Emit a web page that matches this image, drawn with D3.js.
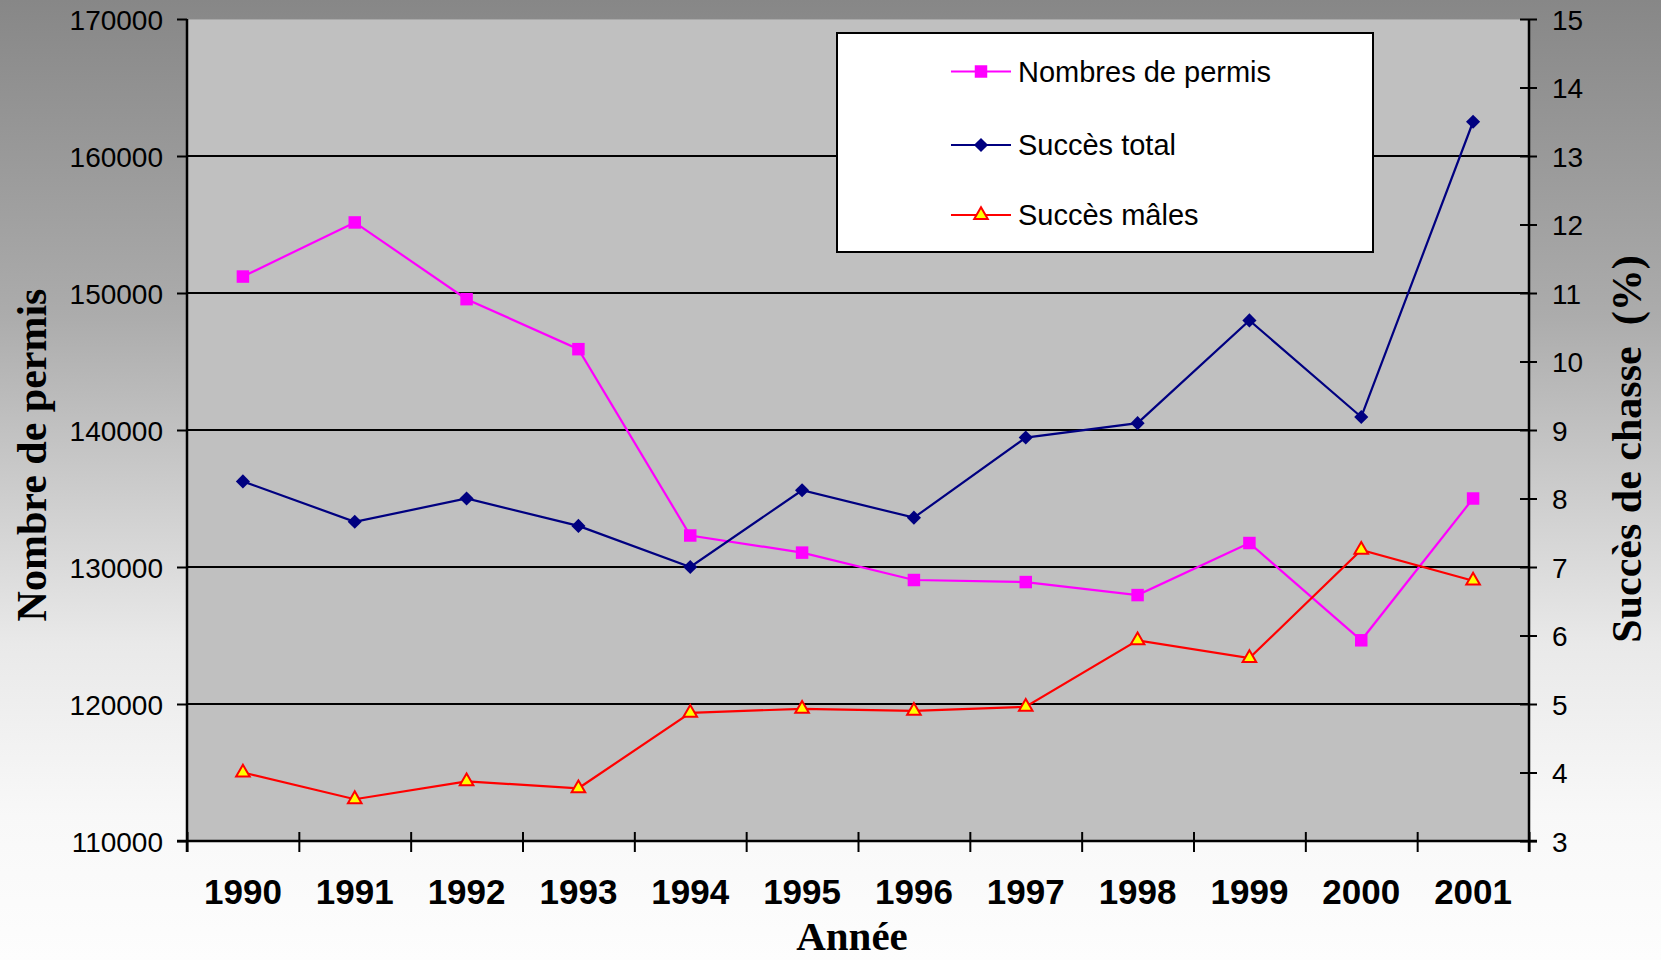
<!DOCTYPE html>
<html lang="fr">
<head>
<meta charset="UTF-8">
<title>Permis et succès de chasse</title>
<script src="https://d3js.org/d3.v7.min.js"></script>
<style>
  body { margin: 0; background: #fff; }
  svg { display: block; }
  .tick text { fill: #000; }
</style>
</head>
<body>
<svg id="chart" width="1661" height="960"></svg>
<script>
// data
var years = ["1990","1991","1992","1993","1994","1995","1996","1997","1998","1999","2000","2001"];
var permis = [151200, 155150, 149550, 145900, 132300, 131050, 129050, 128900, 127950, 131750, 124650, 135000];
var succesTotal = [8.25, 7.66, 8.00, 7.60, 7.00, 8.12, 7.72, 8.89, 9.10, 10.60, 9.19, 13.50];
var succesMales = [4.00, 3.61, 3.87, 3.77, 4.87, 4.93, 4.90, 4.96, 5.93, 5.67, 7.25, 6.80];
var leftTicks = [110000, 120000, 130000, 140000, 150000, 160000, 170000];
var rightTicks = [3, 4, 5, 6, 7, 8, 9, 10, 11, 12, 13, 14, 15];
var gridValues = [120000, 130000, 140000, 150000, 160000];
var legendNames = ["Nombres de permis", "Succès total", "Succès mâles"];

var svg = d3.select("#chart");
var sans = "'Liberation Sans', Arial, sans-serif";
var serif = "'Liberation Serif', 'Times New Roman', serif";

// background gradient
var defs = svg.append("defs");
var grad = defs.append("linearGradient").attr("id", "bg")
  .attr("x1", 0).attr("y1", 0).attr("x2", 0).attr("y2", 1);
grad.append("stop").attr("offset", "0%").attr("stop-color", "#878787");
grad.append("stop").attr("offset", "33%").attr("stop-color", "#acacac");
grad.append("stop").attr("offset", "67%").attr("stop-color", "#e9e9e9");
grad.append("stop").attr("offset", "85%").attr("stop-color", "#f8f8f8");
grad.append("stop").attr("offset", "100%").attr("stop-color", "#fdfdfd");
svg.append("rect").attr("width", 1661).attr("height", 960).attr("fill", "url(#bg)");

// plot box (not "top": that name is taken by window.top)
var pLeft = 187, pRight = 1529, pTop = 19, pBottom = 841;

var x = d3.scaleBand().domain(years).range([pLeft, pRight]).padding(0);
var xEdge = d3.scaleLinear().domain([0, years.length]).range([pLeft, pRight]);
var yL = d3.scaleLinear().domain([110000, 170000]).range([pBottom, pTop]);
var yR = d3.scaleLinear().domain([3, 15]).range([pBottom, pTop]);
var cx = function(d, i) { return x(years[i]) + x.bandwidth() / 2; };

// plot area
svg.append("rect")
  .attr("x", pLeft).attr("y", pTop)
  .attr("width", pRight - pLeft).attr("height", pBottom - pTop)
  .attr("fill", "#c0c0c0");
svg.append("line")
  .attr("x1", pLeft).attr("x2", pRight).attr("y1", pTop + 0.5).attr("y2", pTop + 0.5)
  .attr("stroke", "#a8a8a8").attr("stroke-width", 1);

// gridlines
svg.append("g").selectAll("line")
  .data(gridValues).enter().append("line")
  .attr("x1", pLeft).attr("x2", pRight)
  .attr("y1", function(d) { return yL(d); })
  .attr("y2", function(d) { return yL(d); })
  .attr("stroke", "#000").attr("stroke-width", 2);

// left axis
var gL = svg.append("g").attr("transform", "translate(" + pLeft + ",0)")
  .call(d3.axisLeft(yL).tickValues(leftTicks).tickSize(10).tickPadding(14).tickFormat(d3.format("d")));
gL.select(".domain").remove();
gL.selectAll("line").attr("stroke", "#000").attr("stroke-width", 2);
gL.selectAll("text").attr("font-family", sans).attr("font-size", 28).attr("dy", "0.36em");

// right axis
var gR = svg.append("g").attr("transform", "translate(" + pRight + ",0)")
  .call(d3.axisRight(yR).tickValues(rightTicks).tickSize(8).tickPadding(15));
gR.select(".domain").remove();
gR.selectAll("line").attr("x1", -9).attr("stroke", "#000").attr("stroke-width", 2);
gR.selectAll("text").attr("font-family", sans).attr("font-size", 28).attr("dy", "0.36em");

// bottom axis: boundary ticks
var gB = svg.append("g").attr("transform", "translate(0," + pBottom + ")")
  .call(d3.axisBottom(xEdge).ticks(years.length).tickSize(11).tickFormat(""));
gB.select(".domain").remove();
gB.selectAll("line").attr("y1", -9).attr("stroke", "#000").attr("stroke-width", 2);

// bottom axis: year labels
var gY = svg.append("g").attr("transform", "translate(0," + pBottom + ")")
  .call(d3.axisBottom(x).tickSize(0));
gY.select(".domain").remove();
gY.selectAll("text")
  .attr("y", 63).attr("dy", 0)
  .attr("font-family", sans).attr("font-size", 35).attr("font-weight", "bold");

// axis lines
svg.append("line").attr("x1", pLeft).attr("x2", pLeft).attr("y1", pTop).attr("y2", pBottom + 11)
  .attr("stroke", "#000").attr("stroke-width", 2.5);
svg.append("line").attr("x1", pRight).attr("x2", pRight).attr("y1", pTop).attr("y2", pBottom + 11)
  .attr("stroke", "#000").attr("stroke-width", 2.5);
svg.append("line").attr("x1", pLeft - 10).attr("x2", pRight + 8).attr("y1", pBottom).attr("y2", pBottom)
  .attr("stroke", "#000").attr("stroke-width", 2.5);

// series
var lineL = d3.line().x(cx).y(function(d) { return yL(d); });
var lineR = d3.line().x(cx).y(function(d) { return yR(d); });

var series = [
  { name: legendNames[0], values: permis, line: lineL, scale: yL, color: "#ff00ff",
    symbol: d3.symbolSquare, size: 156, fill: "#ff00ff", stroke: "none", rot: 0 },
  { name: legendNames[1], values: succesTotal, line: lineR, scale: yR, color: "#000080",
    symbol: d3.symbolSquare, size: 100, fill: "#000080", stroke: "none", rot: 45 },
  { name: legendNames[2], values: succesMales, line: lineR, scale: yR, color: "#ff0000",
    symbol: d3.symbolTriangle, size: 80, fill: "#ffff00", stroke: "#ff0000", rot: 0 }
];

series.forEach(function(s) {
  svg.append("path")
    .datum(s.values)
    .attr("d", s.line)
    .attr("fill", "none")
    .attr("stroke", s.color)
    .attr("stroke-width", 2.2);
});

series.forEach(function(s) {
  svg.append("g").selectAll("path")
    .data(s.values).enter().append("path")
    .attr("d", d3.symbol().type(s.symbol).size(s.size))
    .attr("transform", function(d, i) {
      return "translate(" + cx(d, i) + "," + s.scale(d) + ") rotate(" + s.rot + ")";
    })
    .attr("fill", s.fill)
    .attr("stroke", s.stroke)
    .attr("stroke-width", 2);
});

// legend
var legend = svg.append("g");
legend.append("rect")
  .attr("x", 837).attr("y", 33).attr("width", 536).attr("height", 219)
  .attr("fill", "#fff").attr("stroke", "#000").attr("stroke-width", 2);
var legendY = [71.5, 145, 215];
series.forEach(function(s, i) {
  var ly = legendY[i];
  legend.append("line")
    .attr("x1", 951).attr("x2", 1011).attr("y1", ly).attr("y2", ly)
    .attr("stroke", s.color).attr("stroke-width", 2.2);
  legend.append("path")
    .attr("d", d3.symbol().type(s.symbol).size(s.size)())
    .attr("transform", "translate(981," + ly + ") rotate(" + s.rot + ")")
    .attr("fill", s.fill).attr("stroke", s.stroke).attr("stroke-width", 2);
  legend.append("text")
    .attr("x", 1018).attr("y", ly).attr("dy", "0.36em")
    .attr("font-family", sans).attr("font-size", 29)
    .text(s.name);
});

// axis titles
svg.append("text")
  .attr("transform", "translate(46,455) rotate(-90)")
  .attr("text-anchor", "middle")
  .attr("font-family", serif).attr("font-size", 42).attr("font-weight", "bold")
  .text("Nombre de permis");

svg.append("text")
  .attr("transform", "translate(1641,449) rotate(-90)")
  .attr("text-anchor", "middle")
  .attr("xml:space", "preserve")
  .style("white-space", "pre")
  .attr("font-family", serif).attr("font-size", 42).attr("font-weight", "bold")
  .text("Succès de chasse  (%)");

svg.append("text")
  .attr("x", 852).attr("y", 950)
  .attr("text-anchor", "middle")
  .attr("font-family", serif).attr("font-size", 41).attr("font-weight", "bold")
  .text("Année");
</script>
</body>
</html>
